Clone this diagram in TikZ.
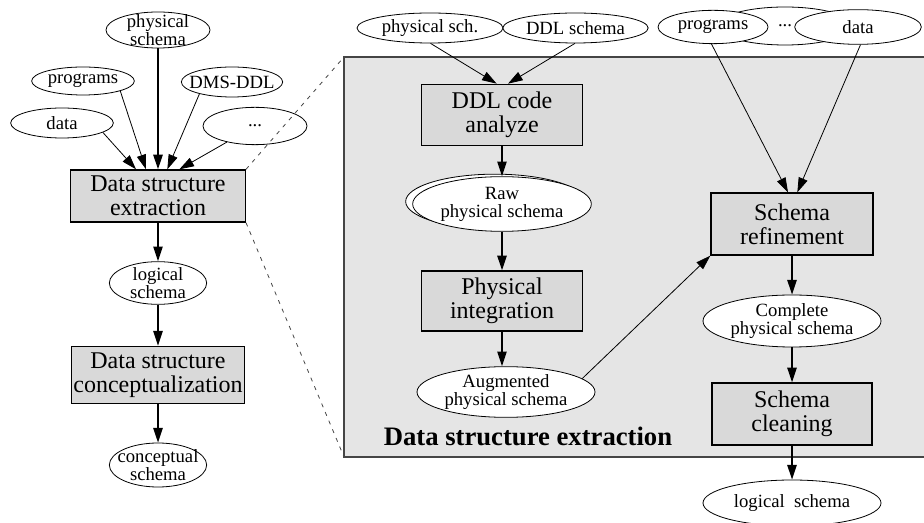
\documentclass[tikz,border=0pt]{standalone}
\usepackage{fontspec}
\setmainfont{Liberation Serif}
\usetikzlibrary{arrows.meta,shapes.geometric}

\definecolor{boxgray}{gray}{0.85}
\definecolor{panelgray}{gray}{0.9}
\definecolor{edgegray}{gray}{0.27}

\begin{document}
\begin{tikzpicture}[x=0.75pt, y=-0.75pt,
	procbox/.style={draw, line width=1pt, fill=boxgray, inner sep=1.5pt, align=center, font=\fontsize{18}{18}\selectfont},
	oval/.style={draw, ellipse, line width=0.6pt, fill=white, inner sep=0pt},
	ovaltext/.style={align=center, inner sep=0pt, font=\fontsize{14}{13.5}\selectfont},
	flow/.style={line width=1.1pt, -{Triangle[length=11pt, width=7pt]}},
	feed/.style={line width=0.6pt, -{Triangle[length=11pt, width=7pt]}},
	zoomline/.style={edgegray, line width=0.6pt, dash pattern=on 3pt off 4pt}]
		\useasboundingbox (0, 0) rectangle (924, 523);

		% 右側の灰色の枠を描画
		\coordinate (ptl) at (344, 57);
		\coordinate (pbl) at (344, 457);
		\fill[panelgray] (ptl) rectangle (924, 457);
		\draw[edgegray, line width=1.4pt] (924, 57) -- (ptl) -- (pbl) -- (924, 457);
		\node[font=\fontsize{20}{20}\selectfont\bfseries] (title) at (528, 436) {Data structure extraction};

		% 左側の入力の楕円
		\node[oval, minimum width=78pt, minimum height=27pt] (lphys) at (158, 30) {};
		\node[ovaltext] at (lphys) {physical\\schema};
		\node[oval, minimum width=77pt, minimum height=21pt] (lprog) at (83, 81) {};
		\node[ovaltext] at (lprog) {programs};
		\node[oval, minimum width=76pt, minimum height=22.5pt] (lddl) at (232, 82) {};
		\node[ovaltext] at (lddl) {DMS-DDL};
		\node[oval, minimum width=77pt, minimum height=22.5pt] (ldata) at (62, 123) {};
		\node[ovaltext] at (ldata) {data};
		\node[oval, minimum width=78pt, minimum height=28pt] (ldots) at (255, 126) {};
		\node[ovaltext] at (ldots) {...};

		% 左側の処理と結果
		\node[procbox, minimum width=131pt, minimum height=39pt] (extract) at (158, 196) {Data structure\\extraction};
		\node[oval, minimum width=73pt, minimum height=32pt] (llog) at (158, 283) {};
		\node[ovaltext] at (llog) {logical\\schema};
		\node[procbox, minimum width=130pt, minimum height=43pt] (concept) at (158, 375) {Data structure\\conceptualization};
		\node[oval, minimum width=73pt, minimum height=33pt] (lconc) at (158, 465) {};
		\node[ovaltext] at (lconc) {conceptual\\schema};

		\draw[feed] (ldata.-13) -- ([xshift=-16.5pt]extract.north);
		\draw[feed] (lprog.-15) -- ([xshift=-9pt]extract.north);
		\draw[flow] (lphys) -- (extract.north);
		\draw[feed] (lddl.200) -- ([xshift=7pt]extract.north);
		\draw[feed] (ldots) -- ([xshift=16pt]extract.north);
		\draw[flow] (extract.south) -- (llog.north);
		\draw[flow] (llog.south) -- (concept.north);
		\draw[flow] (concept.south) -- (lconc.north);

		% 拡大を示す破線
		\draw[zoomline] (extract.north east) -- (ptl);
		\draw[zoomline] (extract.south east) -- (pbl);

		% 枠の中の左の流れ
		\node[oval, minimum width=109.5pt, minimum height=22.5pt] (rphys) at (430, 28) {};
		\node[ovaltext] at (rphys) {physical sch.};
		\node[oval, minimum width=109pt, minimum height=22.5pt] (rddl) at (575.5, 28) {};
		\node[ovaltext] at (rddl) {DDL schema};
		\node[procbox, minimum width=121pt, minimum height=46pt] (ddlcode) at (502, 115) {DDL code\\analyze};
		\node[oval, minimum width=134pt, minimum height=41pt] (rawback) at (495, 201.5) {};
		\node[oval, minimum width=134pt, minimum height=41pt] (raw) at (502, 204) {};
		\node[ovaltext] at (raw) {Raw\\physical schema};
		\node[procbox, minimum width=121pt, minimum height=45pt] (physint) at (502, 301) {Physical\\integration};
		\node[oval, minimum width=133.5pt, minimum height=38pt] (augm) at (506, 392) {};
		\node[ovaltext] at (augm) {Augmented\\physical schema};

		\draw[feed] (rphys.-88) -- ([xshift=-4pt]ddlcode.north);
		\draw[feed] (rddl.-92) -- ([xshift=4.5pt]ddlcode.north);
		\draw[flow] (ddlcode.south) -- (raw.north);
		\draw[flow] (raw.south) -- (physint.north);
		\draw[flow] (physint.south) -- (physint.south |- augm.north);

		% 枠の中の右の流れ
		\node[oval, minimum width=102pt, minimum height=28.5pt] (rdots) at (785, 26) {};
		\node[oval, minimum width=82.5pt, minimum height=25pt] (rprog) at (713, 27) {};
		\node[ovaltext] at (rprog) {programs};
		\node[oval, minimum width=95pt, minimum height=26pt] (rdata) at (858, 27) {};
		\node[ovaltext] at (rdata) {data};
		\node[ovaltext] at (rdots) {...};
		\node[procbox, minimum width=121.5pt, minimum height=46.5pt] (refine) at (792, 224) {Schema\\refinement};
		\node[oval, minimum width=133.5pt, minimum height=39pt] (compl) at (792, 321) {};
		\node[ovaltext] at (compl) {Complete\\physical schema};
		\node[procbox, minimum width=120pt, minimum height=46.5pt] (clean) at (792, 414) {Schema\\cleaning};
		\node[oval, minimum width=133.5pt, minimum height=34.5pt] (rlog) at (792, 503) {};
		\node[ovaltext] at (rlog) {logical~~schema};

		\draw[feed] (rprog.-95) -- ([xshift=-3pt]refine.north);
		\draw[feed] (rdata.-82) -- ([xshift=4pt]refine.north);
		\draw[feed] (augm.10) -- (refine.south west);
		\draw[flow] (refine.south) -- (compl.north);
		\draw[flow] (compl.south) -- (clean.north);
		\draw[flow] (clean.south) -- (rlog.north);

	\end{tikzpicture}
\end{document}
